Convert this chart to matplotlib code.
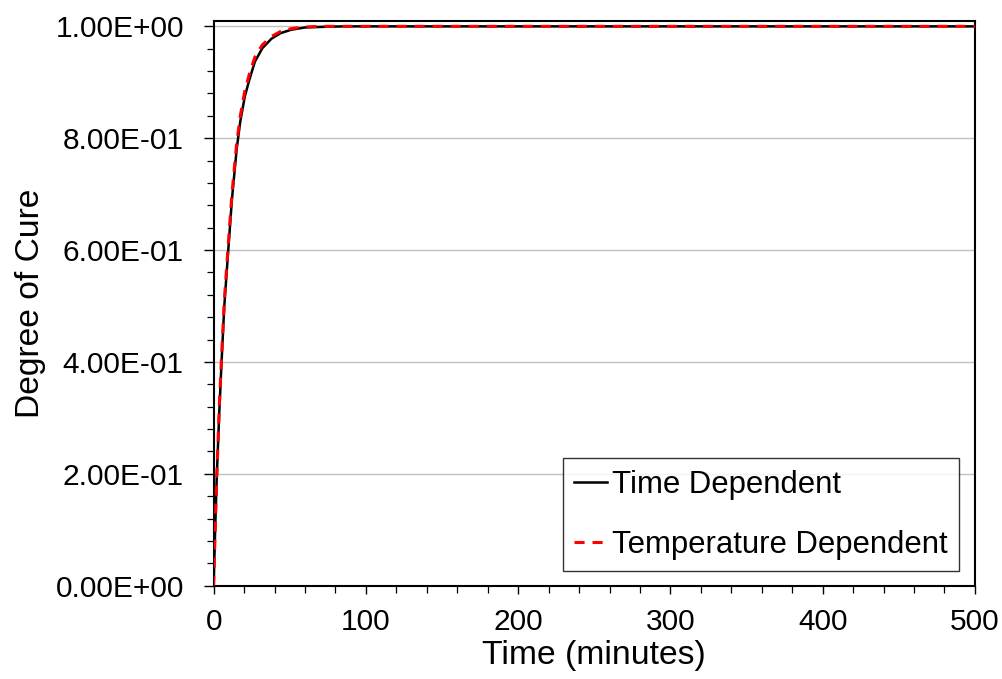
import matplotlib.pyplot as plt
from matplotlib.ticker import MultipleLocator, FuncFormatter

plt.rcParams['font.family'] = ['Liberation Sans', 'DejaVu Sans']

# values
time_dep_t = [0, 1, 2, 3.7, 5.2, 7, 9.6, 12, 15.1, 17.5, 20.5, 23.5, 27.1, 32, 38, 44, 51, 60, 70, 85, 100, 200, 300, 400, 500]
time_dep_v = [0, 0.10, 0.19, 0.31, 0.40, 0.50, 0.60, 0.69, 0.78, 0.83, 0.875, 0.905, 0.937, 0.961, 0.978, 0.988, 0.994, 0.998, 0.999, 1.0, 1.0, 1.0, 1.0, 1.0, 1.0]
temp_dep_t = [0, 1, 2, 3.7, 5.2, 7, 9.6, 12, 15.1, 17.5, 20.5, 23.5, 27.1, 32, 38, 44, 51, 60, 70, 85, 100, 200, 300, 400, 500]
temp_dep_v = [0, 0.10, 0.19, 0.32, 0.41, 0.51, 0.61, 0.70, 0.79, 0.84, 0.885, 0.915, 0.945, 0.967, 0.982, 0.991, 0.996, 0.999, 1.0, 1.0, 1.0, 1.0, 1.0, 1.0, 1.0]

fig = plt.figure(figsize=(10.03, 6.79), dpi=100)
ax = fig.add_axes([0.213, 0.1374, 0.759, 0.832])

ax.plot(time_dep_t, time_dep_v, color='black', lw=1.8, label='Time Dependent', zorder=3)
ax.plot(temp_dep_t, temp_dep_v, color='#ff0000', lw=2.2, ls=(0, (3.3, 2.6)),
        label='Temperature Dependent', zorder=4)

ax.set_xlim(0, 500)
ax.set_ylim(0, 1.01)
ax.xaxis.set_major_locator(MultipleLocator(100))
ax.xaxis.set_minor_locator(MultipleLocator(20))
ax.yaxis.set_major_locator(MultipleLocator(0.2))
ax.yaxis.set_minor_locator(MultipleLocator(0.04))
ax.yaxis.set_major_formatter(FuncFormatter(lambda v, p: f'{v:.2E}'))

ax.grid(True, axis='y', color='#c0c0c0', lw=1.0, zorder=0)
ax.set_axisbelow(True)

for s in ax.spines.values():
    s.set_linewidth(1.5)
ax.tick_params(which='major', direction='out', width=1.0, labelsize=21.5, colors='black')
ax.tick_params(which='minor', direction='out', length=5, width=0.9)
ax.tick_params(axis='y', which='major', length=7, pad=14.5)
ax.tick_params(axis='x', which='major', length=6, pad=10)

ax.set_xlabel('Time (minutes)', fontsize=24.3, labelpad=3)
ax.set_ylabel('Degree of Cure', fontsize=24.2, labelpad=7)

leg = ax.legend(loc='lower right', fontsize=22.4, frameon=True, fancybox=False,
                edgecolor='black', handlelength=1.05, handletextpad=0.16,
                labelspacing=0.95, borderpad=0.37, borderaxespad=0,
                bbox_to_anchor=(0.979, 0.026))
leg.get_frame().set_linewidth(1.0)

fig.savefig('out.png', dpi=100)
